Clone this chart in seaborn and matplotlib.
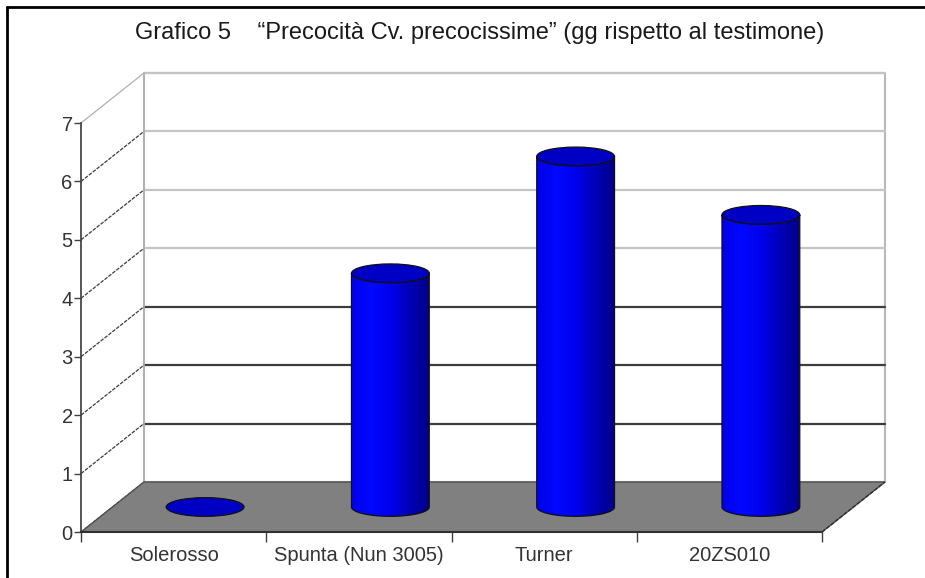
import matplotlib.pyplot as plt
import matplotlib.patches as mpatches
from matplotlib.lines import Line2D
from matplotlib.colors import LinearSegmentedColormap
import numpy as np
import seaborn as sns

categories = ['Solerosso', 'Spunta (Nun 3005)', 'Turner', '20ZS010']
values = [0, 4, 6, 5]
yticks = [0, 1, 2, 3, 4, 5, 6, 7]
title = 'Grafico 5    \u201cPrecocità Cv. precocissime\u201d (gg rispetto al testimone)'

sns.set_theme(style='white')
plt.rcParams['font.family'] = ['Liberation Sans', 'DejaVu Sans']

fig = plt.figure(figsize=(9.25, 5.78), dpi=100)
ax = fig.add_axes([81 / 925, 46 / 578, 741 / 925, 409 / 578])
ax.patch.set_visible(False)

bar_w = 0.42
sns.barplot(x=categories, y=values, color='blue', width=bar_w, ax=ax)
bars = list(ax.patches)

# 3d depth offset (data units) and half height of the ellipses
dx, dy = 0.34, 0.856
ell = 0.16
ymax = 7
x_lo, x_hi = -0.5, len(categories) - 0.5

# side wall + back wall
ax.add_patch(mpatches.Polygon([(x_lo, 0), (x_lo + dx, dy), (x_lo + dx, ymax + dy), (x_lo, ymax)],
                              closed=True, fc='white', ec='none', zorder=0, clip_on=False))
ax.add_patch(mpatches.Rectangle((x_lo + dx, dy), x_hi - x_lo, ymax, fc='white', ec='#b8b8b8',
                                lw=1.5, zorder=0, clip_on=False))
for k in yticks:
    col = '#c4c4c4' if k >= 4 else '#3c3c3c'
    if k > 0:
        ax.plot([x_lo + dx, x_hi + dx], [k + dy, k + dy], color=col, lw=1.6,
                zorder=1, clip_on=False)
    ax.plot([x_lo, x_lo + dx], [k, k + dy], color='#b0b0b0' if k == ymax else '#3c3c3c',
            lw=0.9, ls=(0, (3, 1)) if k < ymax else '-', zorder=1, clip_on=False)
ax.plot([x_lo + dx, x_lo + dx], [dy, ymax + dy], color='#b0b0b0', lw=1.2, zorder=1, clip_on=False)

# floor
ax.add_patch(mpatches.Polygon([(x_lo, 0), (x_hi, 0), (x_hi + dx, dy), (x_lo + dx, dy)],
                              closed=True, fc='#808080', ec='#505050', lw=1.0, zorder=2, clip_on=False))
ax.plot([x_hi, x_hi + dx], [0, dy], color='#303030', lw=1.0, ls=(0, (3, 1)), zorder=3, clip_on=False)

cmap = LinearSegmentedColormap.from_list('cyl', ['#0000e8', '#0008ff', '#0000ee', '#0000b8', '#000088'])
grad = np.linspace(0, 1, 256).reshape(1, -1)
t = np.linspace(0, np.pi, 60)

# turn each seaborn bar into a cylinder standing in the middle of the floor
for bar in bars:
    bar.set_visible(False)
    x0 = bar.get_x() + dx / 2
    a = bar.get_width() / 2
    cx = x0 + a
    base = dy / 2
    top = bar.get_height() + dy / 2
    if bar.get_height() > 0:
        verts = ([(x0, top), (x0, base)]
                 + list(zip(cx - a * np.cos(t), base - ell * np.sin(t)))
                 + [(x0 + 2 * a, top)]
                 + list(zip(cx + a * np.cos(t), top - ell * np.sin(t))))
        body = mpatches.Polygon(verts, closed=True, fc='none', ec='#101010', lw=0.9, zorder=5)
        ax.add_patch(body)
        im = ax.imshow(grad, extent=(x0, x0 + 2 * a, base - ell, top), aspect='auto',
                       cmap=cmap, zorder=4, interpolation='bilinear')
        im.set_clip_path(body)
    ax.add_patch(mpatches.Ellipse((cx, top), 2 * a, 2 * ell, fc='#0000c4', ec='#101010',
                                  lw=0.9, zorder=6))

ax.set_xlim(x_lo, x_hi)
ax.set_ylim(0, ymax)
ax.set_yticks(yticks)
ax.set_xticks(range(len(categories)))
ax.set_xticklabels(categories)
ax.set_xticks(np.arange(x_lo, x_hi + 0.01, 1), minor=True)
ax.set_xlabel('')
ax.set_ylabel('')
for s in ['top', 'right']:
    ax.spines[s].set_visible(False)
ax.spines['left'].set_color('#404040')
ax.spines['bottom'].set_color('#303030')
ax.spines['bottom'].set_linewidth(1.5)
ax.spines['bottom'].set_zorder(3)
ax.tick_params(axis='y', which='major', left=True, length=5, width=1, color='#404040',
               labelsize=14.5, labelcolor='#333333', pad=1)
ax.tick_params(axis='x', which='major', bottom=False, length=0, labelsize=14.5,
               labelcolor='#333333', pad=10)
ax.tick_params(axis='x', which='minor', bottom=True, length=7, width=1, color='#404040')

fig.text(135 / 925, 1 - 33 / 578, title, ha='left', va='center', fontsize=17, color='#1a1a1a')

# outer frame (top and left only)
fig.add_artist(Line2D([7 / 925, 1], [1 - 7 / 578, 1 - 7 / 578], color='black', lw=2,
                      transform=fig.transFigure))
fig.add_artist(Line2D([7 / 925, 7 / 925], [0, 1 - 7 / 578], color='black', lw=2,
                      transform=fig.transFigure))

fig.savefig('out.png', dpi=100)
